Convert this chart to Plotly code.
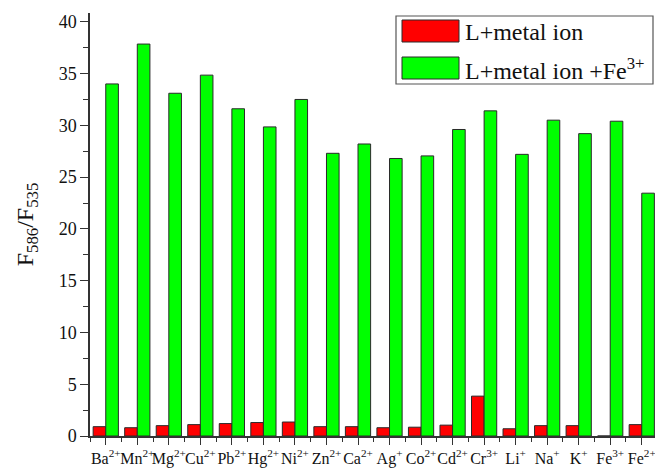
import plotly.graph_objects as go

# Metal ions tested
ions = ["Ba<sup>2+</sup>", "Mn<sup>2+</sup>", "Mg<sup>2+</sup>", "Cu<sup>2+</sup>", "Pb<sup>2+</sup>",
        "Hg<sup>2+</sup>", "Ni<sup>2+</sup>", "Zn<sup>2+</sup>", "Ca<sup>2+</sup>", "Ag<sup>+</sup>",
        "Co<sup>2+</sup>", "Cd<sup>2+</sup>", "Cr<sup>3+</sup>", "Li<sup>+</sup>", "Na<sup>+</sup>",
        "K<sup>+</sup>", "Fe<sup>3+</sup>", "Fe<sup>2+</sup>"]

# F586/F535 ratio, probe + metal ion
ratio_metal = [0.9, 0.8, 1.0, 1.1, 1.2, 1.3, 1.35, 0.9, 0.9, 0.8,
               0.85, 1.05, 3.85, 0.7, 1.0, 1.0, 0.0, 1.1]
# F586/F535 ratio, probe + metal ion + Fe3+
ratio_metal_fe = [34.0, 37.85, 33.1, 34.85, 31.6, 29.85, 32.5, 27.3, 28.2, 26.8,
                  27.05, 29.6, 31.4, 27.2, 30.5, 29.2, 30.4, 23.45]

name_metal = "L+metal ion"
name_metal_fe = "L+metal ion +Fe<sup>3+</sup>"

RED = "#ff0000"
GREEN = "#00ff00"
EDGE = "#2a2a2a"
FONT = "Liberation Serif"

W, H = 655, 475
ML, MR, MT, MB = 90, 0, 13, 39
PW, PH = W - ML - MR, H - MT - MB

x = list(range(len(ions)))

fig = go.Figure()
fig.add_trace(go.Bar(x=x, y=ratio_metal, name=name_metal,
                     marker=dict(color=RED, line=dict(color=EDGE, width=1))))
fig.add_trace(go.Bar(x=x, y=ratio_metal_fe, name=name_metal_fe,
                     marker=dict(color=GREEN, line=dict(color=EDGE, width=1))))


def px_x(p):
    return (p - ML) / PW


def px_y(p):
    return (H - MB - p) / PH


# Boxed legend with wide swatches
shapes = [
    dict(type="rect", xref="paper", yref="paper",
         x0=px_x(396), x1=px_x(653), y0=px_y(84), y1=px_y(16),
         line=dict(color="#555555", width=1.2), fillcolor="white", layer="above"),
    dict(type="rect", xref="paper", yref="paper",
         x0=px_x(402), x1=px_x(459), y0=px_y(42), y1=px_y(20),
         line=dict(color=EDGE, width=1), fillcolor=RED, layer="above"),
    dict(type="rect", xref="paper", yref="paper",
         x0=px_x(402), x1=px_x(459), y0=px_y(79), y1=px_y(57),
         line=dict(color=EDGE, width=1), fillcolor=GREEN, layer="above"),
]
annotations = [
    dict(text=name_metal, xref="paper", yref="paper", x=px_x(463), y=px_y(32),
         xanchor="left", yanchor="middle", showarrow=False,
         font=dict(family=FONT, size=24, color="#111")),
    dict(text=name_metal_fe, xref="paper", yref="paper", x=px_x(463), y=px_y(69),
         xanchor="left", yanchor="middle", showarrow=False,
         font=dict(family=FONT, size=24, color="#111")),
]

fig.update_layout(
    width=W, height=H,
    margin=dict(l=ML, r=MR, t=MT, b=MB),
    paper_bgcolor="white", plot_bgcolor="white",
    barmode="group", bargap=0.2, bargroupgap=0,
    showlegend=False,
    font=dict(family=FONT, color="#111"),
    shapes=shapes, annotations=annotations,
    xaxis=dict(
        range=[-0.5, 17.42], tickmode="array", tickvals=x, ticktext=ions,
        tickangle=0, ticks="outside", ticklen=7, tickwidth=1.3, tickcolor="#333",
        ticklabeloverflow="allow",
        showline=True, linecolor="#333", linewidth=1.5, showgrid=False, zeroline=False,
        tickfont=dict(family=FONT, size=16, color="#111"),
        minor=dict(tickvals=[i + 0.5 for i in range(-1, 18)], ticks="outside",
                   ticklen=4, tickwidth=1.2, tickcolor="#333", showgrid=False),
    ),
    yaxis=dict(
        range=[0, 40.85], tickmode="linear", tick0=0, dtick=5,
        ticks="outside", ticklen=8, tickwidth=1.3, tickcolor="#333",
        showline=True, linecolor="#333", linewidth=1.5, showgrid=False, zeroline=False,
        tickfont=dict(family=FONT, size=18, color="#111"),
        minor=dict(dtick=2.5, ticks="outside", ticklen=5, tickwidth=1.2,
                   tickcolor="#333", showgrid=False),
        title=dict(text="F<sub>586</sub>/F<sub>535</sub>", standoff=18,
                   font=dict(family=FONT, size=24, color="#111")),
    ),
)

fig.write_html("out.html")
